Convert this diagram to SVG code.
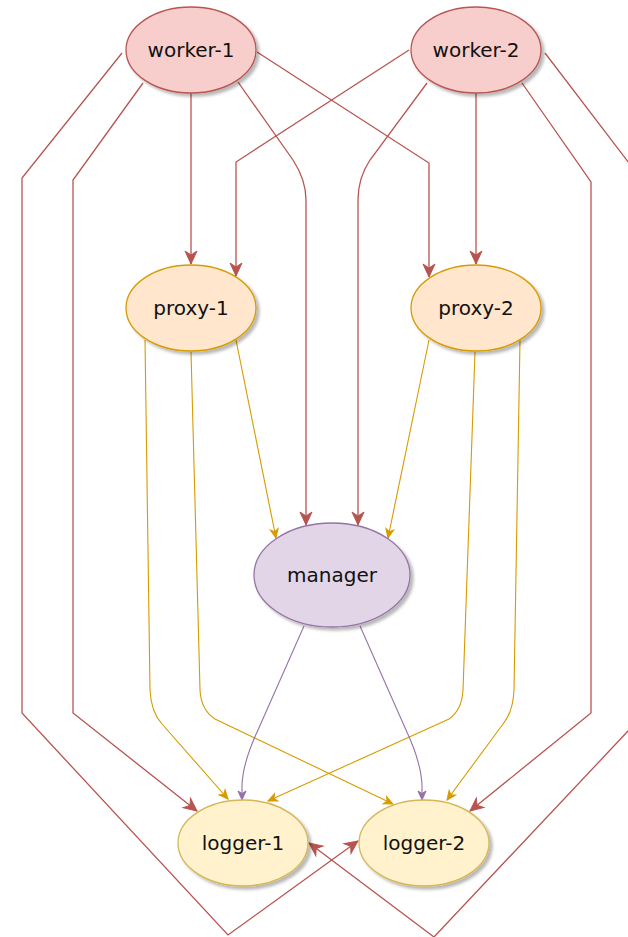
<svg xmlns="http://www.w3.org/2000/svg" width="628" height="937" viewBox="0 0 628 937">
  <style>
    .node text { font-family: "DejaVu Sans", Verdana, sans-serif; font-size: 20px; fill: #111; text-anchor: middle; dominant-baseline: central; }
    .node ellipse { stroke-width: 1.3; filter: url(#shadow); }
    .worker ellipse { fill: #f8cecc; stroke: #b85450; }
    .proxy ellipse { fill: #ffe6cc; stroke: #d79b00; }
    .manager ellipse { fill: #e1d5e7; stroke: #9673a6; }
    .logger ellipse { fill: #fff2cc; stroke: #d6b656; }
    .edges path { fill: none; }
    .red { stroke: #b85450; stroke-width: 1.3; marker-end: url(#arrowRed); }
    .orange { stroke: #d79b00; stroke-width: 1.1; marker-end: url(#arrowOrange); }
    .purple { stroke: #9673a6; stroke-width: 1.1; marker-end: url(#arrowPurple); }
  </style>
  <defs>
    <filter id="shadow" x="-20%" y="-20%" width="150%" height="150%">
      <feDropShadow dx="3" dy="3" stdDeviation="1.5" flood-color="#000" flood-opacity="0.28"/>
    </filter>
    <marker id="arrowRed" markerUnits="userSpaceOnUse" viewBox="-14 -7 15 14" markerWidth="15" markerHeight="14" refX="0" refY="0" orient="auto" overflow="visible">
      <path d="M0,0 L-13,-6 L-9,0 L-13,6 Z" fill="#b85450" stroke="#b85450" stroke-width="1"/>
    </marker>
    <marker id="arrowOrange" markerUnits="userSpaceOnUse" viewBox="-10 -5 11 10" markerWidth="11" markerHeight="10" refX="0" refY="0" orient="auto" overflow="visible">
      <path d="M0,0 L-9,-4 L-6.5,0 L-9,4 Z" fill="#d79b00" stroke="#d79b00" stroke-width="1"/>
    </marker>
    <marker id="arrowPurple" markerUnits="userSpaceOnUse" viewBox="-10 -5 11 10" markerWidth="11" markerHeight="10" refX="0" refY="0" orient="auto" overflow="visible">
      <path d="M0,0 L-9,-4 L-6.5,0 L-9,4 Z" fill="#9673a6" stroke="#9673a6" stroke-width="1"/>
    </marker>
  </defs>

  <g id="connectors" class="edges">
    <!-- worker-1 -->
    <path class="red" d="M191,93 L191,264"/>
    <path class="red" d="M257,52 L429,163 L429,277"/>
    <path class="red" d="M238,82 L293,160 Q306,180 306,200 L306,525"/>
    <path class="red" d="M143,83 L73,180 L73,713 L197,811"/>
    <path class="red" d="M122,53 L22,178 L22,713 L228,935 L358,841"/>
    <!-- worker-2 -->
    <path class="red" d="M476,93 L476,264"/>
    <path class="red" d="M409,50 L236,162 L236,276"/>
    <path class="red" d="M427,83 L370,160 Q358,178 358,200 L358,525"/>
    <path class="red" d="M522,83 L591,182 L591,713 L470,811"/>
    <path class="red" d="M545,53 L645,184 L645,713 L434,937 L309,843"/>
    <!-- proxy-1 -->
    <path class="orange" d="M236,340 L276,538"/>
    <path class="orange" d="M145,340 L150,690 Q151,712 162,724 L228,799"/>
    <path class="orange" d="M191,352 L200,690 Q201,710 215,719 L393,804"/>
    <!-- proxy-2 -->
    <path class="orange" d="M429,340 L388,538"/>
    <path class="orange" d="M475,352 L463,690 Q462,710 449,719 L268,801"/>
    <path class="orange" d="M520,340 L514,690 Q513,712 503,724 L447,800"/>
    <!-- manager -->
    <path class="purple" d="M304,626 L258,730 Q243,762 242,785 L242,800"/>
    <path class="purple" d="M360,626 L406,730 Q421,762 422,785 L422,800"/>
  </g>

  <g id="worker-1" class="node worker">
    <ellipse cx="191" cy="50" rx="65" ry="43"/>
    <text x="191" y="50">worker-1</text>
  </g>
  <g id="worker-2" class="node worker">
    <ellipse cx="476" cy="50" rx="65" ry="43"/>
    <text x="476" y="50">worker-2</text>
  </g>
  <g id="proxy-1" class="node proxy">
    <ellipse cx="191" cy="308" rx="65" ry="43"/>
    <text x="191" y="308">proxy-1</text>
  </g>
  <g id="proxy-2" class="node proxy">
    <ellipse cx="476" cy="308" rx="65" ry="43"/>
    <text x="476" y="308">proxy-2</text>
  </g>
  <g id="manager" class="node manager">
    <ellipse cx="332" cy="575" rx="78" ry="52"/>
    <text x="332" y="575">manager</text>
  </g>
  <g id="logger-1" class="node logger">
    <ellipse cx="243" cy="843" rx="65" ry="43"/>
    <text x="243" y="843">logger-1</text>
  </g>
  <g id="logger-2" class="node logger">
    <ellipse cx="424" cy="843" rx="65" ry="43"/>
    <text x="424" y="843">logger-2</text>
  </g>
</svg>
